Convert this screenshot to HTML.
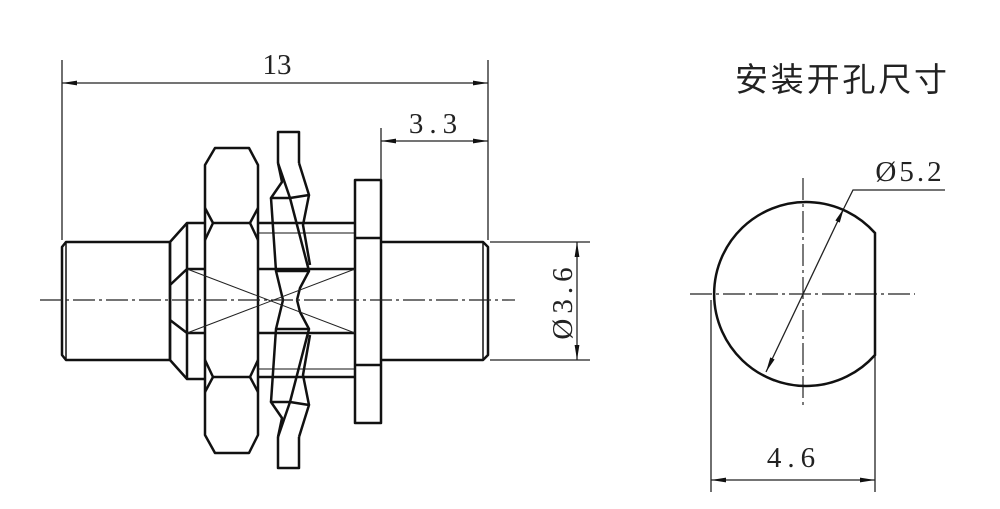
<!DOCTYPE html>
<html><head><meta charset="utf-8"><style>
html,body{margin:0;padding:0;background:#fff;}
svg{display:block;}
text{font-family:"Liberation Serif","DejaVu Serif",serif;fill:#222;}
</style></head><body>
<svg width="1000" height="509" viewBox="0 0 1000 509" xmlns="http://www.w3.org/2000/svg">
<defs>
<marker id="a" viewBox="0 0 10 4" refX="10" refY="2" markerWidth="16" markerHeight="6" orient="auto-start-reverse" markerUnits="userSpaceOnUse"><path d="M0,0.4 L10,2 L0,3.6z" fill="#111"/></marker>
</defs>
<g fill="none" stroke="#111" stroke-width="2.5" stroke-linejoin="round">
<path d="M66,242 H170 V360 H66 L62,355 V247 Z"/>
<line x1="66" y1="242" x2="66" y2="360" stroke-width="1.5"/>
<path d="M170,242 L187,223 H205 M170,360 L187,379 H205 M170,242 V360"/>
<path d="M187,223 V379 M187,269 H205 M187,333 H205 M187,269 L170,285 M170,320 L187,333"/>
<path d="M215,148 H249 L258,165 V435 L249,453 H215 L205,435 V165 Z"/>
<path d="M213,223 H250 M213,377 H250"/>
<path d="M205,208 L213,223 L205,240 M258,208 L250,223 L258,240 M205,360 L213,377 L205,392 M258,360 L250,377 L258,392"/>
<path d="M258,223 H355 M258,377 H355 M258,269 H355 M258,333 H355"/>
<path d="M258,233 H355 M258,369 H355" stroke-width="1.1"/>
<g id="w">
<path d="M278,163 V132 H299 V163"/>
<path d="M278,163 L282,182 L271,198 L290,198 L309,195 L299,163"/>
<path d="M278,163 L290,198"/>
<path d="M271,198 L276,271 L309,271 L290,198"/>
<path d="M309,195 L303,225 L310,265"/>
<path d="M276,271 L283,300 M309,271 L300,288 L297,300"/>
</g>
<use href="#w" transform="translate(0,600) scale(1,-1)"/>
<rect x="355" y="180" width="26" height="243"/>
<path d="M355,238 H381 M355,365 H381"/>
<path d="M381,242 H483 L488,247 V355 L483,360 H381"/>
<line x1="483" y1="242" x2="483" y2="360" stroke-width="1.5"/>
</g>
<g stroke="#222" stroke-width="1">
<line x1="187" y1="269" x2="355" y2="333"/>
<line x1="187" y1="333" x2="355" y2="269"/>
</g>
<g stroke="#222" stroke-width="1.2" stroke-dasharray="22,4,3,4">
<line x1="40" y1="300" x2="515" y2="300"/>
<line x1="690" y1="294" x2="915" y2="294"/>
<line x1="803" y1="178" x2="803" y2="408"/>
</g>
<g stroke="#222" stroke-width="1.3" fill="none">
<line x1="62" y1="60" x2="62" y2="240"/>
<line x1="488" y1="60" x2="488" y2="240"/>
<line x1="62" y1="83" x2="488" y2="83" marker-start="url(#a)" marker-end="url(#a)"/>
<line x1="381" y1="128" x2="381" y2="180"/>
<line x1="381" y1="141" x2="488" y2="141" marker-start="url(#a)" marker-end="url(#a)"/>
<line x1="490" y1="242" x2="590" y2="242"/>
<line x1="490" y1="360" x2="590" y2="360"/>
<line x1="577" y1="242" x2="577" y2="360" marker-start="url(#a)" marker-end="url(#a)"/>
<line x1="711" y1="300" x2="711" y2="492"/>
<line x1="875" y1="355" x2="875" y2="492"/>
<line x1="711" y1="480" x2="875" y2="480" marker-start="url(#a)" marker-end="url(#a)"/>
<line x1="766" y1="372" x2="844" y2="208" marker-start="url(#a)" marker-end="url(#a)"/>
<polyline points="844,208 853,190 945,190"/>
</g>
<path d="M875,233 A92,92 0 1 0 875,355 Z" fill="none" stroke="#111" stroke-width="2.5"/>
<text x="277" y="74" font-size="29" text-anchor="middle">13</text>
<text x="436" y="133" font-size="29" text-anchor="middle" letter-spacing="6">3.3</text>
<text x="0" y="0" font-size="29" text-anchor="middle" letter-spacing="5" transform="translate(572,301) rotate(-90)">Ø3.6</text>
<text x="910" y="181" font-size="29" text-anchor="middle" letter-spacing="3">Ø5.2</text>
<text x="794" y="467" font-size="29" text-anchor="middle" letter-spacing="6">4.6</text>
<text x="735" y="91" font-size="33" style="font-family:'Noto Sans CJK SC',sans-serif" textLength="212">安装开孔尺寸</text>
</svg>
</body></html>
